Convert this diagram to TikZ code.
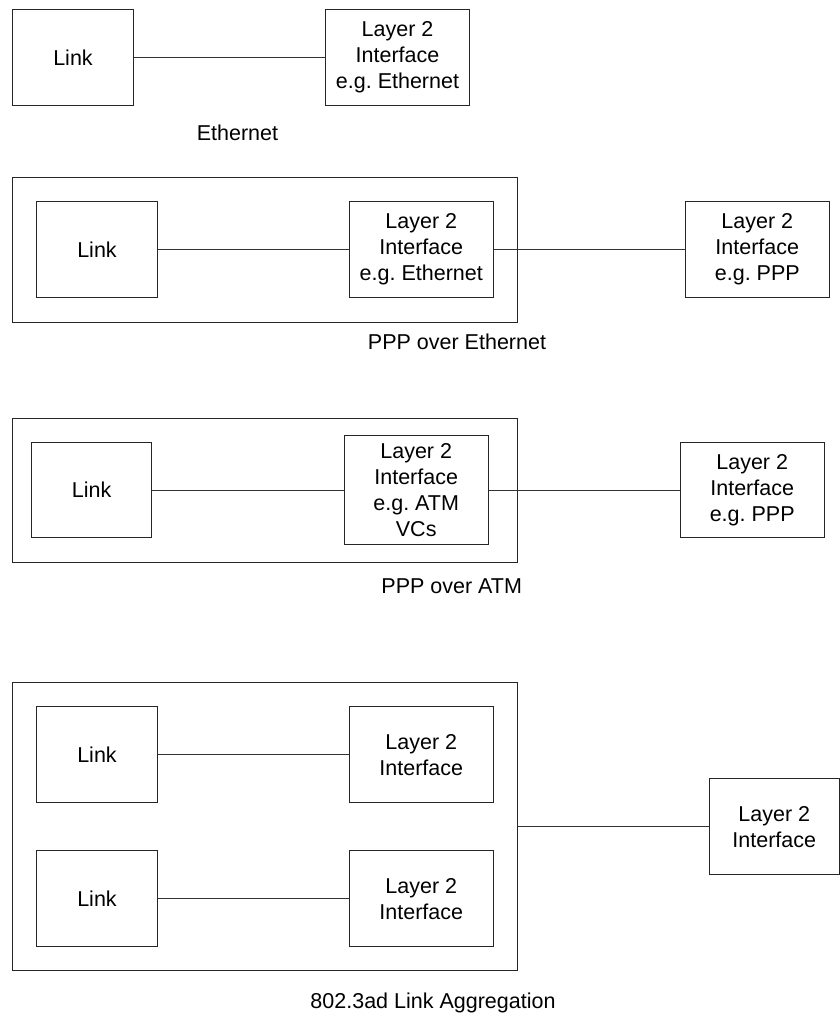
\documentclass[tikz,border=0pt]{standalone}
\usepackage{fontspec}
\setmainfont{Liberation Sans}
\usepackage{tikz}
\usetikzlibrary{positioning,calc}
\frenchspacing

\begin{document}
\begin{tikzpicture}[
    x=0.5pt, y=-0.5pt,
    box/.style={draw=black!85,line width=0.5pt,align=center,inner sep=1pt,
                font=\fontsize{10.75}{13}\selectfont},
    link/.style={box,minimum width=60.3pt,minimum height=48pt},
    iface/.style={box,minimum width=72pt,minimum height=48pt},
    frame/.style={draw=black!85,line width=0.5pt,inner sep=0pt},
    wire/.style={draw=black!80,line width=0.5pt},
    caption/.style={font=\fontsize{10.75}{13}\selectfont},
  ]
  \useasboundingbox (0,0) rectangle (840,1014);

  % --- plain ethernet ---
  \node[link]  (link1) at (73,57.3)    {Link};
  \node[iface] (lay1)  at (397.5,57.3) {Layer 2\\Interface\\e.g. Ethernet};
  \node[caption] (cap1) at (237.5,133) {Ethernet};
  \draw[wire] (link1) -- (lay1);

  % --- ppp over ethernet ---
  \node[frame,minimum width=252.3pt,minimum height=72.5pt] (box2) at (265,249.8) {};
  \node[link]  (link2) at (97,249.7)    {Link};
  \node[iface] (lay2)  at (421.3,249.7) {Layer 2\\Interface\\e.g. Ethernet};
  \node[iface] (ppp2)  at (757.3,249.7) {Layer 2\\Interface\\e.g. PPP};
  \node[caption] (cap2) at (457,341.7) {PPP over Ethernet};
  \draw[wire] (link2) -- (lay2);
  \draw[wire] (lay2) -- (ppp2);

  % --- ppp over atm ---
  \node[frame,minimum width=252.3pt,minimum height=72pt] (box3) at (265,490.3) {};
  \node[link,minimum width=60pt,minimum height=47.7pt] (link3) at (91.7,490) {Link};
  \node[iface,minimum height=54.2pt] (lay3) at (416.2,490) {Layer 2\\Interface\\e.g. ATM\\VCs};
  \node[iface,minimum height=47.7pt] (ppp3) at (752.2,490) {Layer 2\\Interface\\e.g. PPP};
  \node[caption] (cap3) at (451.7,585.7) {PPP over ATM};
  \draw[wire] (link3) -- (lay3);
  \draw[wire] (lay3) -- (ppp3);

  % --- link aggregation: two links bundled behind one interface ---
  \node[frame,minimum width=252.3pt,minimum height=144.2pt] (box4) at (265,826.6) {};
  \node[link]  (link4a) at (97,754.7)    {Link};
  \node[iface] (lay4a)  at (421.3,754.7) {Layer 2\\Interface};
  \node[link]  (link4b) at (97,898.8)    {Link};
  \node[iface] (lay4b)  at (421.3,898.8) {Layer 2\\Interface};
  \node[iface,minimum width=65pt] (agg) at (774.3,826.6) {Layer 2\\Interface};
  \node[caption] (cap4) at (433,1003) {802.3ad Link Aggregation};
  \draw[wire] (link4a) -- (lay4a);
  \draw[wire] (link4b) -- (lay4b);
  \draw[wire] (box4.east) -- (agg.west);

\end{tikzpicture}
\end{document}
